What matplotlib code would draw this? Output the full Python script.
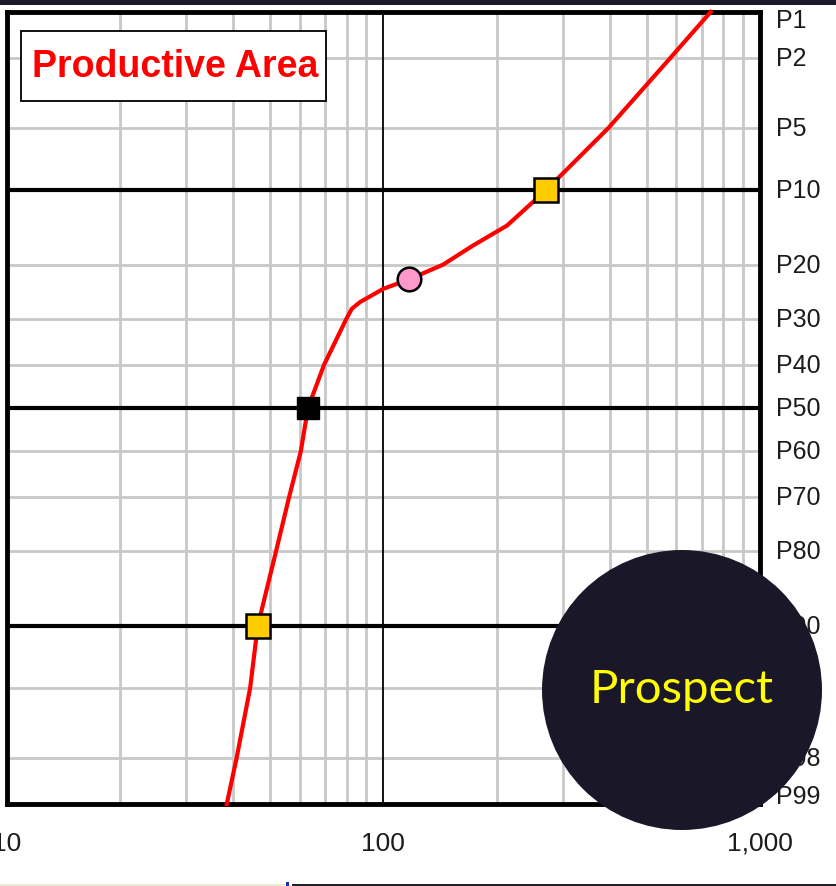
import matplotlib
matplotlib.use("Agg")
import matplotlib.pyplot as plt
from matplotlib.patches import Circle, Rectangle
from matplotlib.transforms import blended_transform_factory, ScaledTranslation
from statistics import NormalDist

# Cumulative curve: exceedance probability (P) vs productive area
curve_p = [1, 2, 5, 10, 14.2, 17, 20, 22.5, 24.2, 26.7, 28, 30, 40, 50, 60, 70, 80, 90, 95, 98, 99]
curve_x = [740, 577, 396, 271, 213, 173, 144, 117, 100, 86.7, 82.5, 79.8, 69.6, 63.1, 60.4, 56.2, 51.9, 46.4, 44.3, 40.8, 38.4]

# Key points
p90_val = 46.4
p50_val = 63.1
p10_val = 271
mean_val = 117
mean_p = 22.5

prob_ticks = [1, 2, 5, 10, 20, 30, 40, 50, 60, 70, 80, 90, 95, 98, 99]
prob_labels = ["P%d" % p for p in prob_ticks]
major_probs = [10, 50, 90]
x_ticks = [10, 100, 1000]
x_labels = ["10", "100", "1,000"]

nd = NormalDist()
def z(p):
    return nd.inv_cdf(p / 100.0)

fig = plt.figure(figsize=(8.36, 8.87), dpi=100)
ax = fig.add_axes([0.008, 0.0924, 0.901, 0.893])
ax.set_xscale("log")
ax.set_xlim(10, 1000)
ax.set_ylim(z(99), z(1))

grey = "#c8c8c8"
# vertical grid
for dec in [10, 100]:
    for k in range(2, 10):
        ax.axvline(dec * k, color=grey, lw=2, zorder=1)
ax.axvline(100, color="black", lw=1.3, zorder=2)
# horizontal grid
for p in prob_ticks:
    if p in major_probs:
        ax.axhline(z(p), color="black", lw=3, zorder=2)
    elif p not in (1, 99):
        ax.axhline(z(p), color=grey, lw=2, zorder=1)

for s in ax.spines.values():
    s.set_linewidth(3.5)
    s.set_color("black")

ax.set_xticks(x_ticks)
ax.set_xticklabels([])
ax.set_yticks([])
ax.minorticks_off()
ax.tick_params(length=0)

txt_col = "#1c1c1c"
tr_x = blended_transform_factory(ax.transData, ax.transAxes)
for xv, lab in zip(x_ticks, x_labels):
    ax.text(xv, -0.049, lab, transform=tr_x, ha="center", va="center",
            fontsize=19, family="Liberation Sans", color=txt_col, clip_on=False)

tr_y = blended_transform_factory(ax.transAxes, ax.transData)
for p, lab in zip(prob_ticks, prob_labels):
    dy = 0
    if p == 1:
        dy = -6 / 72
    elif p == 99:
        dy = 6 / 72
    t = tr_y + ScaledTranslation(0, dy, fig.dpi_scale_trans)
    ax.text(1.021, z(p), lab, transform=t, ha="left", va="center",
            fontsize=18, family="Liberation Sans", color=txt_col, clip_on=False)

# curve and markers
ax.plot(curve_x, [z(p) for p in curve_p], color="red", lw=3, zorder=5, clip_on=False)
ax.plot([p90_val, p10_val], [z(90), z(10)], ls="none", marker="s", ms=17,
        mfc="#ffcc00", mec="black", mew=1.8, zorder=6)
ax.plot([p50_val], [z(50)], ls="none", marker="s", ms=15.5,
        mfc="black", mec="black", zorder=6)
ax.plot([mean_val], [z(mean_p)], ls="none", marker="o", ms=17,
        mfc="#ff99cc", mec="black", mew=1.8, zorder=6)

# title box
ax.add_patch(Rectangle((0.0186, 0.888), 0.405, 0.0884, transform=ax.transAxes,
                       facecolor="white", edgecolor="black", lw=1.3, zorder=7))
ax.text(0.2234, 0.932, "Productive Area", transform=ax.transAxes, ha="center",
        va="center", fontsize=27, fontweight="bold", color="red",
        family="Liberation Sans", zorder=8)

# slide decorations
fig.add_artist(Rectangle((0, 881 / 887), 1, 6 / 887, transform=fig.transFigure,
                         facecolor="#1a1a2a", edgecolor="none", zorder=10))
fig.add_artist(Rectangle((0, 0), 285 / 836, 2.5 / 887, transform=fig.transFigure,
                         facecolor="#ece9d8", edgecolor="none", zorder=10))
fig.add_artist(Rectangle((286 / 836, 0), 3 / 836, 4 / 887, transform=fig.transFigure,
                         facecolor="#1030c0", edgecolor="none", zorder=10))
fig.add_artist(Rectangle((292 / 836, 0), 1, 2.5 / 887, transform=fig.transFigure,
                         facecolor="#202028", edgecolor="none", zorder=10))

fig.add_artist(Circle((6.82, 8.87 - 6.91), 1.40, transform=fig.dpi_scale_trans,
                      facecolor="#1a1828", edgecolor="none", zorder=20))
fig.text(682 / 836, 1 - 690 / 887, "Prospect", ha="center", va="center",
         fontsize=34, color="#ffff00", family="Lato", zorder=21)

fig.savefig("out.png", dpi=100)
